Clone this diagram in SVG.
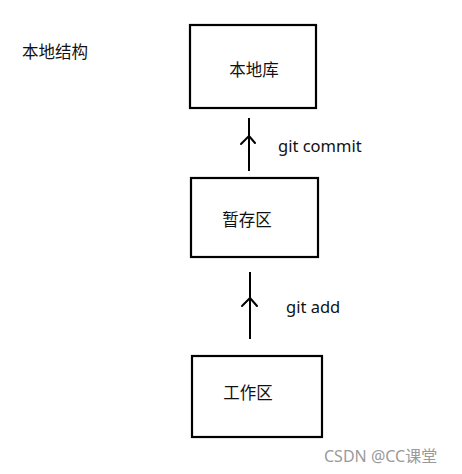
<svg xmlns="http://www.w3.org/2000/svg" width="462" height="474" viewBox="0 0 462 474">
<style>
.box{fill:#fff;stroke:#000;stroke-width:2.2}
.t{font-family:"Noto Sans","Noto Sans CJK SC",sans-serif;font-size:16.5px;fill:#111}
.c{stroke:#000;stroke-width:2;fill:none}
.h{stroke:#000;stroke-width:2;fill:none;stroke-linecap:round;stroke-linejoin:round}
.wm{font-family:"Noto Sans","Noto Sans CJK SC",sans-serif;font-size:16px;fill:#9a9a9a}
</style>
<rect width="462" height="474" fill="#fff"/>
<text class="t" x="22" y="58">本地结构</text>
<g id="node-local-repo">
<rect class="box" x="190" y="25" width="126" height="83"/>
<text class="t" x="254" y="76" text-anchor="middle">本地库</text>
</g>
<g id="node-staging">
<rect class="box" x="191" y="178" width="127" height="79"/>
<text class="t" x="247" y="226" text-anchor="middle">暂存区</text>
</g>
<g id="node-workspace">
<rect class="box" x="192" y="356" width="130" height="81"/>
<text class="t" x="248" y="399" text-anchor="middle">工作区</text>
</g>
<g id="connectors">
<line class="c" x1="249" y1="118" x2="249" y2="171"/>
<polyline class="h" points="241,144 249,136 255,143"/>
<text class="t" x="278" y="152" font-size="17.6">git commit</text>
<line class="c" x1="250" y1="272" x2="250" y2="339"/>
<polyline class="h" points="242,306 250,298 257,306"/>
<text class="t" x="286" y="313" font-size="17.4">git add</text>
</g>
<text class="wm" x="324" y="462" font-size="15.5">CSDN @CC课堂</text>
</svg>
